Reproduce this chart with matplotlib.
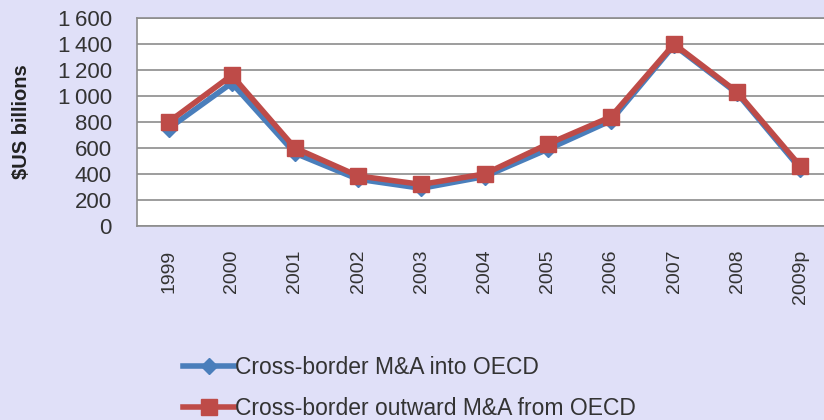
import matplotlib.pyplot as plt

plt.rcParams['font.family'] = ['Liberation Sans', 'DejaVu Sans']

# Data
years = ['1999', '2000', '2001', '2002', '2003', '2004', '2005', '2006', '2007', '2008', '2009p']
into_oecd = [750, 1100, 560, 360, 290, 380, 590, 810, 1390, 1020, 440]
outward_oecd = [800, 1160, 600, 385, 320, 400, 630, 840, 1400, 1030, 460]
yticks = [0, 200, 400, 600, 800, 1000, 1200, 1400, 1600]
ytick_labels = ['0', '200', '400', '600', '800', '1\u2009000', '1\u2009200', '1\u2009400', '1\u2009600']

bg = '#e0e0f8'
blue = '#4a7ebb'
red = '#be4b48'

fig = plt.figure(figsize=(8.24, 4.2), dpi=100, facecolor=bg)
ax = fig.add_axes([137 / 824, 1 - 226 / 420, 695 / 824, 208 / 420])
ax.set_facecolor('white')

x = list(range(len(years)))
ax.plot(x, into_oecd, color=blue, lw=4, marker='D', ms=8,
        label='Cross-border M&A into OECD', zorder=3)
ax.plot(x, outward_oecd, color=red, lw=4, marker='s', ms=12,
        label='Cross-border outward M&A from OECD', zorder=4)

ax.set_xlim(-0.5, len(years) - 0.5)
ax.set_ylim(0, 1600)
ax.set_yticks(yticks)
ax.set_yticklabels(ytick_labels, fontsize=16, color='#333333')
ax.set_xticks(x)
ax.set_xticklabels(years, rotation=90, fontsize=14, color='#333333')
ax.tick_params(axis='y', length=0, pad=18)
ax.tick_params(axis='x', length=0, pad=17)

ax.grid(axis='y', color='#8c8c8c', lw=1.2)
ax.set_axisbelow(True)
for s in ax.spines.values():
    s.set_color('#8c8c8c')
    s.set_linewidth(1.2)

fig.text(22 / 824, 1 - 122 / 420, '$US billions', rotation=90, fontsize=14.5,
         fontweight='bold', ha='center', va='center', color='#222222')

fig.legend(loc='upper left', bbox_to_anchor=(172 / 824, 1 - 345 / 420),
           frameon=False, fontsize=16.5, handlelength=2.2, handletextpad=0.05,
           labelspacing=0.75, labelcolor='#333333', borderpad=0)

fig.savefig('out.png', dpi=100, facecolor=bg)
